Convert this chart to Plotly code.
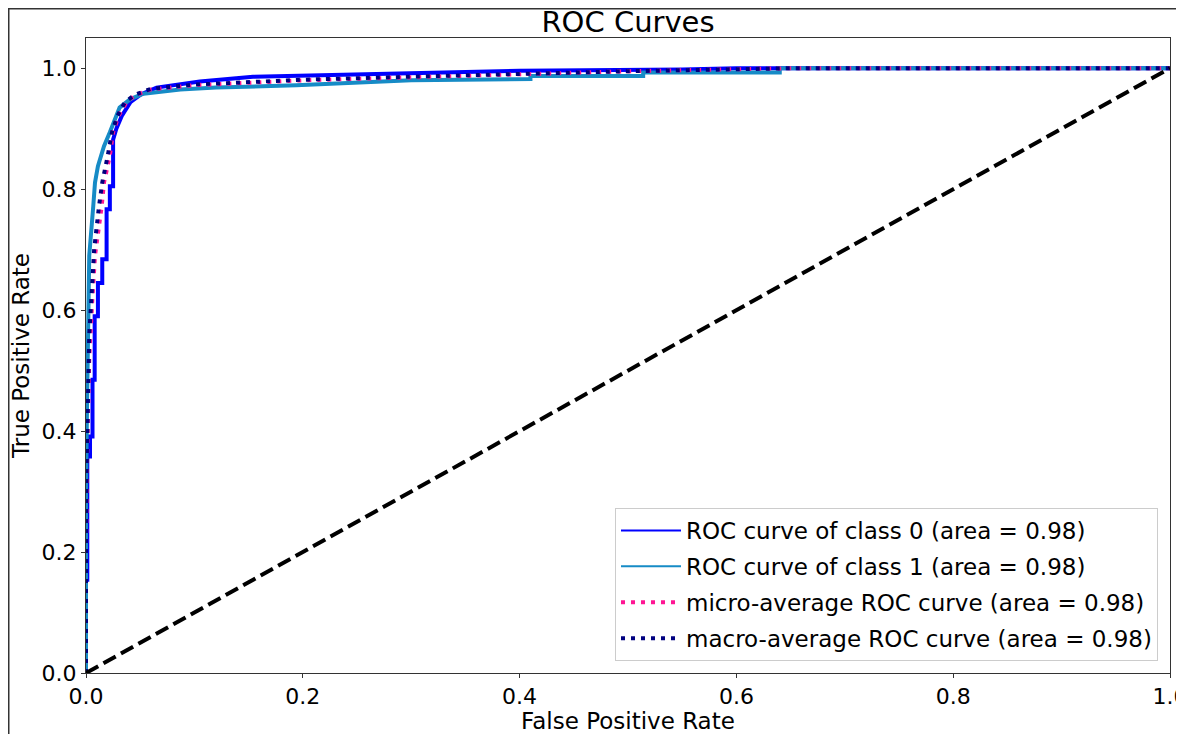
import plotly.graph_objects as go

# ---- data ----
class0_fpr = [0, 0, 0.0012, 0.0012, 0.0037, 0.0037, 0.006, 0.006, 0.008, 0.008, 0.011, 0.011,
              0.015, 0.015, 0.019, 0.019, 0.022, 0.022, 0.025, 0.025, 0.028, 0.033, 0.041, 0.051,
              0.065, 0.08, 0.105, 0.154, 0.24, 0.30, 0.40, 0.55, 0.60, 1.0]
class0_tpr = [0, 0.154, 0.154, 0.358, 0.358, 0.391, 0.391, 0.485, 0.485, 0.59, 0.59, 0.645,
              0.645, 0.684, 0.684, 0.767, 0.767, 0.805, 0.805, 0.882, 0.90, 0.921, 0.944, 0.957,
              0.968, 0.972, 0.978, 0.986, 0.990, 0.993, 0.996, 0.998, 1.0, 1.0]

class1_fpr = [0, 0, 0.001, 0.002, 0.003, 0.0067, 0.0083, 0.011, 0.0166, 0.022, 0.027, 0.031,
              0.041, 0.053, 0.087, 0.12, 0.194, 0.30, 0.41, 0.41, 0.514, 0.514, 0.64, 0.64, 1.0]
class1_tpr = [0, 0.30, 0.45, 0.55, 0.69, 0.772, 0.811, 0.838, 0.871, 0.894, 0.916, 0.935,
              0.949, 0.958, 0.965, 0.968, 0.972, 0.980, 0.982, 0.987, 0.987, 0.993, 0.993, 1.0, 1.0]

micro_fpr = [0, 0, 0.001, 0.002, 0.003, 0.0055, 0.0083, 0.0145, 0.0166, 0.022, 0.025, 0.030,
             0.0375, 0.045, 0.06, 0.10, 0.20, 0.30, 0.40, 0.50, 0.65, 1.0]
micro_tpr = [0, 0.20, 0.35, 0.45, 0.52, 0.606, 0.69, 0.772, 0.811, 0.855, 0.894, 0.921,
             0.944, 0.955, 0.965, 0.972, 0.980, 0.985, 0.990, 0.995, 1.0, 1.0]

macro_fpr = [0, 0, 0.001, 0.002, 0.003, 0.005, 0.0075, 0.012, 0.015, 0.020, 0.024, 0.029,
             0.036, 0.045, 0.06, 0.10, 0.20, 0.30, 0.40, 0.50, 0.65, 1.0]
macro_tpr = [0, 0.25, 0.38, 0.50, 0.56, 0.62, 0.70, 0.772, 0.811, 0.855, 0.894, 0.921,
             0.944, 0.956, 0.966, 0.973, 0.981, 0.986, 0.991, 0.995, 1.0, 1.0]

diag_x = [0, 1]
diag_y = [0, 1]

labels = ["ROC curve of class 0 (area = 0.98)",
          "ROC curve of class 1 (area = 0.98)",
          "micro-average ROC curve (area = 0.98)",
          "macro-average ROC curve (area = 0.98)"]

x_ticks = [0, 0.2, 0.4, 0.6, 0.8, 1.0]
y_ticks = [0, 0.2, 0.4, 0.6, 0.8, 1.0]

# ---- styles ----
C0 = "#0000ff"
C1 = "#168bc6"
CMICRO = "#ff1493"
CMACRO = "#000080"
FONT = "DejaVu Sans"

# page body has an 8px margin, so the figure is sized to fill the rest of the window
W, H = 1176, 726
ML, MR, MT, MB = 78, 14, 30, 61
PW = W - ML - MR
PH = H - MT - MB

fig = go.Figure()

fig.add_trace(go.Scatter(x=class0_fpr, y=class0_tpr, mode="lines",
                         line=dict(color=C0, width=4), showlegend=False))
fig.add_trace(go.Scatter(x=class1_fpr, y=class1_tpr, mode="lines",
                         line=dict(color=C1, width=4), showlegend=False))
fig.add_trace(go.Scatter(x=micro_fpr, y=micro_tpr, mode="lines",
                         line=dict(color=CMICRO, width=4, dash="4px,6px"), showlegend=False))
fig.add_trace(go.Scatter(x=macro_fpr, y=macro_tpr, mode="lines",
                         line=dict(color=CMACRO, width=4, dash="4px,6px"), showlegend=False))
fig.add_trace(go.Scatter(x=diag_x, y=diag_y, mode="lines",
                         line=dict(color="black", width=4, dash="14px,6px"), showlegend=False))

# legend-only entries (thinner sample lines as in the reference)
leg_styles = [dict(color=C0, width=2), dict(color=C1, width=2),
              dict(color=CMICRO, width=4, dash="4px,6px"),
              dict(color=CMACRO, width=4, dash="4px,6px")]
for i, (lab, st) in enumerate(zip(labels, leg_styles)):
    fig.add_trace(go.Scatter(x=[None], y=[None], mode="lines", name=lab, line=st,
                             legendgroup=f"g{i}", showlegend=True))

fig.update_layout(
    width=W, height=H,
    margin=dict(l=ML, r=MR, t=MT, b=MB, autoexpand=False),
    paper_bgcolor="white", plot_bgcolor="white",
    font=dict(family=FONT, size=23, color="black"),
    title=dict(text="ROC Curves", x=0.5, xref="paper", xanchor="center",
               y=1 - 14 / H, yanchor="middle", font=dict(size=29, family=FONT)),
    legend=dict(x=(1158 - 86) / PW, y=(673 - 661) / PH, xanchor="right", yanchor="bottom",
                bgcolor="white", bordercolor="#cccccc", borderwidth=1,
                font=dict(size=23, family=FONT), tracegroupgap=3, itemwidth=60),
    showlegend=True,
)
fig.update_xaxes(range=[0, 1.0], tickvals=x_ticks, ticktext=[f"{v:.1f}" for v in x_ticks],
                 automargin=False, tickfont=dict(size=22, family=FONT), ticklabeloverflow="allow",
                 showgrid=False, zeroline=False, showline=True, linecolor="#333333",
                 linewidth=1, mirror=True, ticks="outside", ticklen=4, tickcolor="#333333",
                 title=dict(text="False Positive Rate", font=dict(size=23, family=FONT)))
fig.update_yaxes(range=[0, 1.05], tickvals=y_ticks, ticktext=[f"{v:.1f}" for v in y_ticks],
                 automargin=False, tickfont=dict(size=22, family=FONT), ticklabeloverflow="allow",
                 showgrid=False, zeroline=False, showline=True, linecolor="#333333",
                 linewidth=1, mirror=True, ticks="outside", ticklen=4, tickcolor="#333333",
                 title=dict(text="True Positive Rate", font=dict(size=23, family=FONT)))

# outer figure frame seen in the reference
fig.add_shape(type="rect", xref="paper", yref="paper",
              x0=(0.75 - ML) / PW, x1=1.2, y0=-0.3, y1=(PH + MT - 0.75) / PH,
              line=dict(color="#333333", width=1.5), fillcolor="rgba(0,0,0,0)", layer="above")

fig.write_html("out.html")
